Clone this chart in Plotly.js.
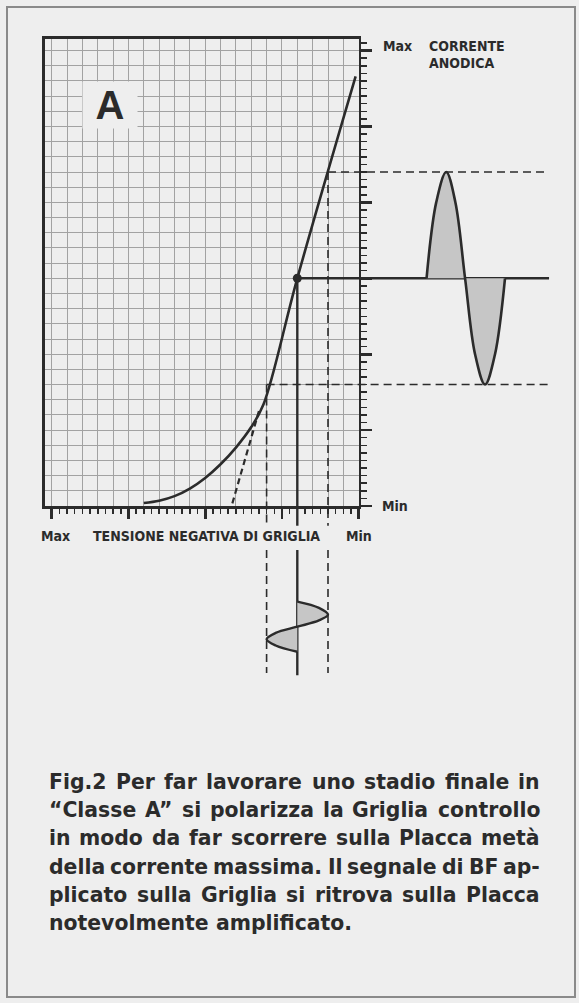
<!DOCTYPE html>
<html>
<head>
<meta charset="utf-8">
<script src="https://cdn.plot.ly/plotly-3.0.1.min.js"></script>
<style>
html,body{margin:0;padding:0;background:#eeeeee;}
#chart{width:579px;height:1003px;}
</style>
</head>
<body>
<div id="chart"></div>
<script>
// ---------- data (grid units: 1 unit = one grid square) ----------
// anode-current characteristic (x = negative grid voltage, y = anode current)
const curveX = [6.0, 7.0, 8.0, 9.0, 10.0, 11.0, 12.0, 13.0, 13.8, 16.0, 19.8];
const curveY = [0.2, 0.35, 0.65, 1.15, 1.85, 2.75, 3.85, 5.2, 6.7, 15.0, 28.3];
// linear extension of the straight part (dashed)
const tangentX = [13.5, 11.72];
const tangentY = [6.25, 0];
// operating point
const qX = [16];
const qY = [15];
// output signal (anode current) beside the right axis
const outX = [24.42, 25.05, 25.7, 26.3, 26.93, 27.58, 28.23, 28.88, 29.53];
const outY = [15, 20.0, 22, 20.0, 15, 10.0, 8, 10.0, 15];
// input signal (grid voltage) below the x axis
const inX = [16, 17.41, 18, 17.41, 16, 14.59, 14, 14.59, 16];
const inY = [-6.3, -6.71, -7.15, -7.54, -7.95, -8.36, -8.78, -9.19, -9.6];
// guide lines
const lineEndX = 32.4;
const peakY = 22, troughY = 8;
const peakX = 18, troughX = 14;
const axisStopY = -1.3, lowTopY = -2.9, lowBottomY = -11.0;

// tick / label texts
const yTopLabel = 'Max';
const yBottomLabel = 'Min';
const yTitle = ['CORRENTE', 'ANODICA'];
const xLeftLabel = 'Max';
const xRightLabel = 'Min';
const xTitle = 'TENSIONE NEGATIVA DI GRIGLIA';
const panelLabel = 'A';
const captionLines = [
  'Fig.2 Per far lavorare uno stadio finale in',
  '\u201CClasse A\u201D si polarizza la Griglia controllo',
  'in modo da far scorrere sulla Placca metà',
  'della corrente massima. Il segnale di BF ap-',
  'plicato sulla Griglia si ritrova sulla Placca',
  'notevolmente amplificato.'
];

// ---------- geometry ----------
const W = 579, H = 1003;
const ux = 15.35, uy = 15.18;       // px per grid unit
const x0px = 51.7, y0px = 506;      // px of grid origin
const INK = '#2b2b2b', BG = '#eeeeee';
const narrow = '"Liberation Sans Narrow", "DejaVu Sans Condensed", "Liberation Sans", sans-serif';
const sans = '"DejaVu Sans", "Liberation Sans", Arial, sans-serif';
const px2x = p => p / W, py2y = p => 1 - p / H;
const pageX = [(0 - x0px) / ux, (W - x0px) / ux];
const pageY = [(y0px - H) / uy, y0px / uy];

const traces = [];
traces.push({x: curveX, y: curveY, xaxis: 'x', yaxis: 'y', mode: 'lines',
  line: {color: INK, width: 2.6, shape: 'spline', smoothing: 1}, hoverinfo: 'skip'});
traces.push({x: tangentX, y: tangentY, xaxis: 'x', yaxis: 'y', mode: 'lines',
  line: {color: INK, width: 2.2, dash: '6px,4px'}, hoverinfo: 'skip'});
const dash = {color: INK, width: 1.6, dash: '8px,5px'};
[[ [peakX, lineEndX], [peakY, peakY] ],
 [ [troughX, lineEndX], [troughY, troughY] ],
 [ [peakX, peakX], [peakY, axisStopY] ],
 [ [troughX, troughX], [troughY, axisStopY] ],
 [ [peakX, peakX], [lowTopY, lowBottomY] ],
 [ [troughX, troughX], [lowTopY, lowBottomY] ]
].forEach(s => traces.push({x: s[0], y: s[1], xaxis: 'x2', yaxis: 'y2', mode: 'lines',
  line: dash, hoverinfo: 'skip'}));
const solid = {color: INK, width: 2.4};
[[ [qX[0], lineEndX], [qY[0], qY[0]] ],
 [ [qX[0], qX[0]], [qY[0], axisStopY] ],
 [ [qX[0], qX[0]], [lowTopY, lowBottomY - 0.15] ]
].forEach(s => traces.push({x: s[0], y: s[1], xaxis: 'x2', yaxis: 'y2', mode: 'lines',
  line: solid, hoverinfo: 'skip'}));
traces.push({x: outX, y: outY, xaxis: 'x2', yaxis: 'y2', mode: 'lines', fill: 'toself',
  fillcolor: '#c6c6c6', line: {color: INK, width: 2.6, shape: 'spline', smoothing: 1}, hoverinfo: 'skip'});
traces.push({x: inX, y: inY, xaxis: 'x2', yaxis: 'y2', mode: 'lines', fill: 'toself',
  fillcolor: '#c6c6c6', line: {color: INK, width: 2.4, shape: 'spline', smoothing: 1}, hoverinfo: 'skip'});
traces.push({x: qX, y: qY, xaxis: 'x2', yaxis: 'y2', mode: 'markers',
  marker: {size: 9, color: INK}, hoverinfo: 'skip'});
// invisible anchors for the tick-only subplots
['3', '4'].forEach(n => traces.push({x: qX, y: qY, xaxis: 'x' + n, yaxis: 'y' + n, mode: 'markers',
  marker: {size: 1, color: 'rgba(0,0,0,0)'}, hoverinfo: 'skip'}));

const dom = {x: [45 / W, (x0px + 20 * ux) / W], y: [py2y(506), py2y(39)]};
const xr = [(45 - x0px) / ux, 20];
const yr = [0, (506 - 39) / uy];

// main axes: frame + grid (one line per square)
const gridAx = (range, domain, extra) => Object.assign({domain, range, showgrid: true,
  gridcolor: '#a2a2a2', gridwidth: 1, tickmode: 'linear', dtick: 1, tick0: 0, ticks: '', showticklabels: false,
  zeroline: false, showline: true, mirror: true, linecolor: INK, linewidth: 2.6, fixedrange: true}, extra);
// separate tick-only axes on the same domain
const tickAx = (range, domain, dt, len, w, extra) => Object.assign({domain, range, showgrid: false,
  zeroline: false, showline: false, showticklabels: false, ticks: 'outside', tickmode: 'linear', dtick: dt, tick0: 0,
  ticklen: len, tickwidth: w, tickcolor: INK, fixedrange: true}, extra);

const ann = [];
const lab = (text, xpx, ypx, size) => ann.push({text, x: px2x(xpx), y: py2y(ypx),
  xref: 'paper', yref: 'paper', xanchor: 'left', yanchor: 'middle', showarrow: false,
  font: {family: narrow, size: size, color: INK, weight: 'bold'}});

lab(yTopLabel, 381, 46, 14);
lab(yTitle[0], 427, 46, 14);
lab(yTitle[1], 427, 63, 14);
lab(yBottomLabel, 380, 506.5, 14);
lab(xLeftLabel, 39, 536, 14);
lab(xTitle, 91, 536, 14);
lab(xRightLabel, 344, 536, 14);
ann.push({text: panelLabel, x: px2x(110), y: py2y(105), xref: 'paper', yref: 'paper',
  xanchor: 'center', yanchor: 'middle', showarrow: false, width: 52, height: 44, bgcolor: BG,
  font: {family: '"Liberation Sans", Arial, sans-serif', size: 40, color: INK, weight: 'bold'}});

// justified caption
const cv = document.createElement('canvas').getContext('2d');
const capLeft = 48, capRight = 539, capTop = 781.7, capStep = 28.3;
let capSize = 20.5;
const measure = s => { cv.font = 'bold ' + s + 'px "DejaVu Sans"'; };
measure(capSize);
let fit = 1;
captionLines.slice(0, -1).forEach(line => {
  const words = line.split(' ');
  const sum = words.reduce((a, w) => a + cv.measureText(w).width, 0);
  fit = Math.min(fit, (capRight - capLeft - 5 * (words.length - 1)) / sum);
});
capSize = Math.floor(capSize * fit * 10) / 10;
measure(capSize);
captionLines.forEach((line, i) => {
  const words = line.split(' ');
  const ws = words.map(w => cv.measureText(w).width);
  const sum = ws.reduce((a, b) => a + b, 0);
  const last = i === captionLines.length - 1;
  const gap = last ? cv.measureText(' ').width : (capRight - capLeft - sum) / (words.length - 1);
  let x = capLeft;
  words.forEach((w, k) => {
    ann.push({text: w, x: px2x(x - 1), y: py2y(capTop + i * capStep), xref: 'paper', yref: 'paper',
      xanchor: 'left', yanchor: 'middle', showarrow: false,
      font: {family: sans, size: capSize, color: INK, weight: 'bold'}});
    x += ws[k] + gap;
  });
});

const layout = {
  width: W, height: H, margin: {l: 0, r: 0, t: 0, b: 0, pad: 0},
  paper_bgcolor: BG, plot_bgcolor: 'rgba(0,0,0,0)', showlegend: false,
  xaxis: gridAx(xr, dom.x, {anchor: 'y'}),
  yaxis: gridAx(yr, dom.y, {anchor: 'x'}),
  xaxis3: tickAx(xr, dom.x, 0.5, 7, 1.5, {anchor: 'y3', side: 'bottom'}),
  yaxis3: tickAx(yr, dom.y, 0.5, 7, 1.5, {anchor: 'x3', side: 'right'}),
  xaxis4: tickAx(xr, dom.x, 5, 12, 2.6, {anchor: 'y4', side: 'bottom'}),
  yaxis4: tickAx(yr, dom.y, 5, 12, 2.6, {anchor: 'x4', side: 'right'}),
  xaxis2: {domain: [0, 1], range: pageX, visible: false, fixedrange: true, anchor: 'y2'},
  yaxis2: {domain: [0, 1], range: pageY, visible: false, fixedrange: true, anchor: 'x2'},
  annotations: ann,
  shapes: [{type: 'rect', xref: 'paper', yref: 'paper', x0: px2x(7), x1: px2x(575), y0: py2y(997), y1: py2y(7),
    line: {color: '#8a8a8a', width: 2}, layer: 'below'}]
};
Plotly.newPlot('chart', traces, layout, {staticPlot: true, displayModeBar: false});
</script>
</body>
</html>
